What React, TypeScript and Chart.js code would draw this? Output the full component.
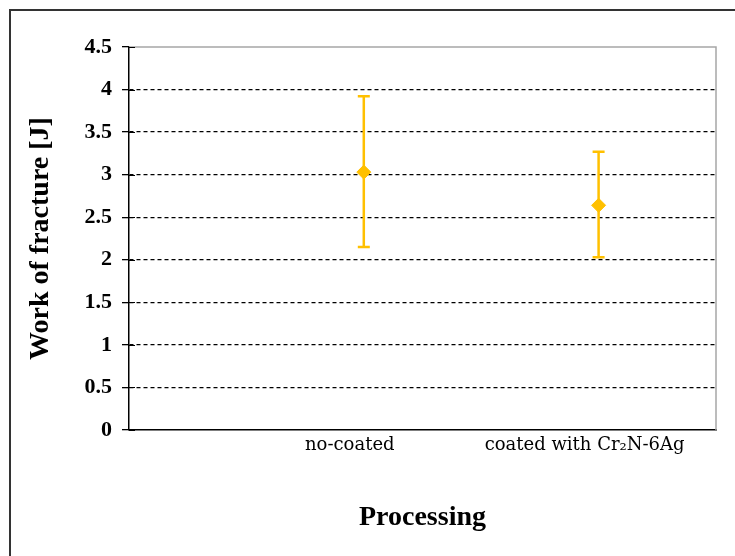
import { useEffect, useRef } from "react";
import { Chart, registerables } from "chart.js";

Chart.register(...registerables);

// Sample groups and their x positions on the linear axis
const categories = ["no-coated", "coated with Cr\u2082N-6Ag"];
const xPositions = [1, 2];

// Work of fracture [J]: mean with lower / upper error limits
const meanWork = [3.03, 2.64];
const lowerWork = [2.15, 2.03];
const upperWork = [3.92, 3.27];

const yTickValues = [0, 0.5, 1, 1.5, 2, 2.5, 3, 3.5, 4, 4.5];

const GOLD = "#FFC000";
const SERIF = "'Liberation Serif', 'Times New Roman', serif";

export default function App() {
  const canvasRef = useRef<HTMLCanvasElement | null>(null);

  useEffect(() => {
    const canvas = canvasRef.current;
    if (!canvas) return;

    const pagePlugin = {
      id: "pageFrame",
      beforeDraw(chart: any) {
        const { ctx, width, height } = chart;
        ctx.save();
        ctx.fillStyle = "#ffffff";
        ctx.fillRect(0, 0, width, height);
        ctx.strokeStyle = "#333333";
        ctx.lineWidth = 2;
        ctx.beginPath();
        ctx.moveTo(10, height);
        ctx.lineTo(10, 10);
        ctx.lineTo(width, 10);
        ctx.stroke();
        ctx.restore();
      },
    };

    const errorBarPlugin = {
      id: "errorBars",
      beforeDatasetsDraw(chart: any) {
        const { ctx, scales } = chart;
        const xs = scales.x;
        const ys = scales.y;
        ctx.save();
        ctx.strokeStyle = GOLD;
        ctx.lineWidth = 2.5;
        xPositions.forEach((xv, i) => {
          const x = xs.getPixelForValue(xv);
          const yLo = ys.getPixelForValue(lowerWork[i]);
          const yHi = ys.getPixelForValue(upperWork[i]);
          ctx.beginPath();
          ctx.moveTo(x, yLo);
          ctx.lineTo(x, yHi);
          ctx.moveTo(x - 6, yLo);
          ctx.lineTo(x + 6, yLo);
          ctx.moveTo(x - 6, yHi);
          ctx.lineTo(x + 6, yHi);
          ctx.stroke();
        });
        ctx.restore();
      },
    };

    const plotFramePlugin = {
      id: "plotFrame",
      afterDraw(chart: any) {
        const { ctx, chartArea, scales } = chart;
        const { left, right, top, bottom } = chartArea;
        ctx.save();
        // light frame on top and right edges of the plot area
        ctx.strokeStyle = "#a6a6a6";
        ctx.lineWidth = 1.5;
        ctx.beginPath();
        ctx.moveTo(left, top);
        ctx.lineTo(right, top);
        ctx.lineTo(right, bottom);
        ctx.stroke();
        // tick marks crossing into the plot area
        ctx.strokeStyle = "#000";
        ctx.lineWidth = 1;
        yTickValues.forEach((v) => {
          const y = Math.round(scales.y.getPixelForValue(v)) + 0.5;
          ctx.beginPath();
          ctx.moveTo(left, y);
          ctx.lineTo(left + 6, y);
          ctx.stroke();
        });
        ctx.restore();
      },
    };

    const chart = new Chart(canvas, {
      type: "scatter",
      data: {
        datasets: [
          {
            data: xPositions.map((x, i) => ({ x, y: meanWork[i] })),
            pointStyle: "rectRot",
            pointRadius: 7,
            backgroundColor: GOLD,
            borderColor: GOLD,
            borderWidth: 1,
            showLine: false,
          },
        ],
      },
      options: {
        animation: false,
        responsive: true,
        maintainAspectRatio: false,
        layout: { padding: { top: 47, right: 19, bottom: 0, left: 0 } },
        plugins: {
          legend: { display: false },
          tooltip: { enabled: false },
        },
        scales: {
          x: {
            type: "linear",
            min: 0,
            max: 2.5,
            afterBuildTicks: (scale: any) => {
              scale.ticks = xPositions.map((v) => ({ value: v }));
            },
            afterFit: (scale: any) => {
              scale.height = 126;
            },
            ticks: {
              autoSkip: false,
              maxRotation: 0,
              padding: 5,
              labelOffset: -14,
              color: "#000",
              font: { family: "'DejaVu Serif', serif", size: 18 },
              callback: (v: any) => {
                const i = xPositions.indexOf(Number(v));
                return i >= 0 ? categories[i] : "";
              },
            },
            grid: { display: false, drawTicks: false },
            border: { display: true, color: "#000", width: 1.5 },
            title: {
              display: true,
              text: "Processing",
              color: "#000",
              font: { family: SERIF, size: 28, weight: "bold" },
              padding: { top: 0, bottom: 21 },
            },
          },
          y: {
            min: 0,
            max: 4.5,
            afterBuildTicks: (scale: any) => {
              scale.ticks = yTickValues.map((v) => ({ value: v }));
            },
            afterFit: (scale: any) => {
              scale.width = 129;
            },
            ticks: {
              padding: 10,
              color: "#000",
              font: { family: SERIF, size: 22, weight: "bold" },
              callback: (v: any) => String(v),
            },
            grid: {
              color: (c: any) =>
                c.tick && (c.tick.value === 0 || c.tick.value === 4.5)
                  ? "rgba(0,0,0,0)"
                  : "#000",
              lineWidth: 1.3,
              tickColor: "#000",
              tickLength: 7,
              tickBorderDash: [],
            },
            border: { display: true, color: "#000", width: 1.5, dash: [4, 3] },
            title: {
              display: true,
              text: "Work of fracture [J]",
              color: "#000",
              font: { family: SERIF, size: 28, weight: "bold" },
              padding: { top: 24, bottom: 0 },
            },
          },
        },
      },
      plugins: [pagePlugin, errorBarPlugin, plotFramePlugin],
    } as any);

    return () => chart.destroy();
  }, []);

  return (
    <div
      style={{
        position: "fixed",
        left: 0,
        top: 0,
        width: 735,
        height: 556,
        background: "#fff",
      }}
    >
      <canvas ref={canvasRef} />
    </div>
  );
}
